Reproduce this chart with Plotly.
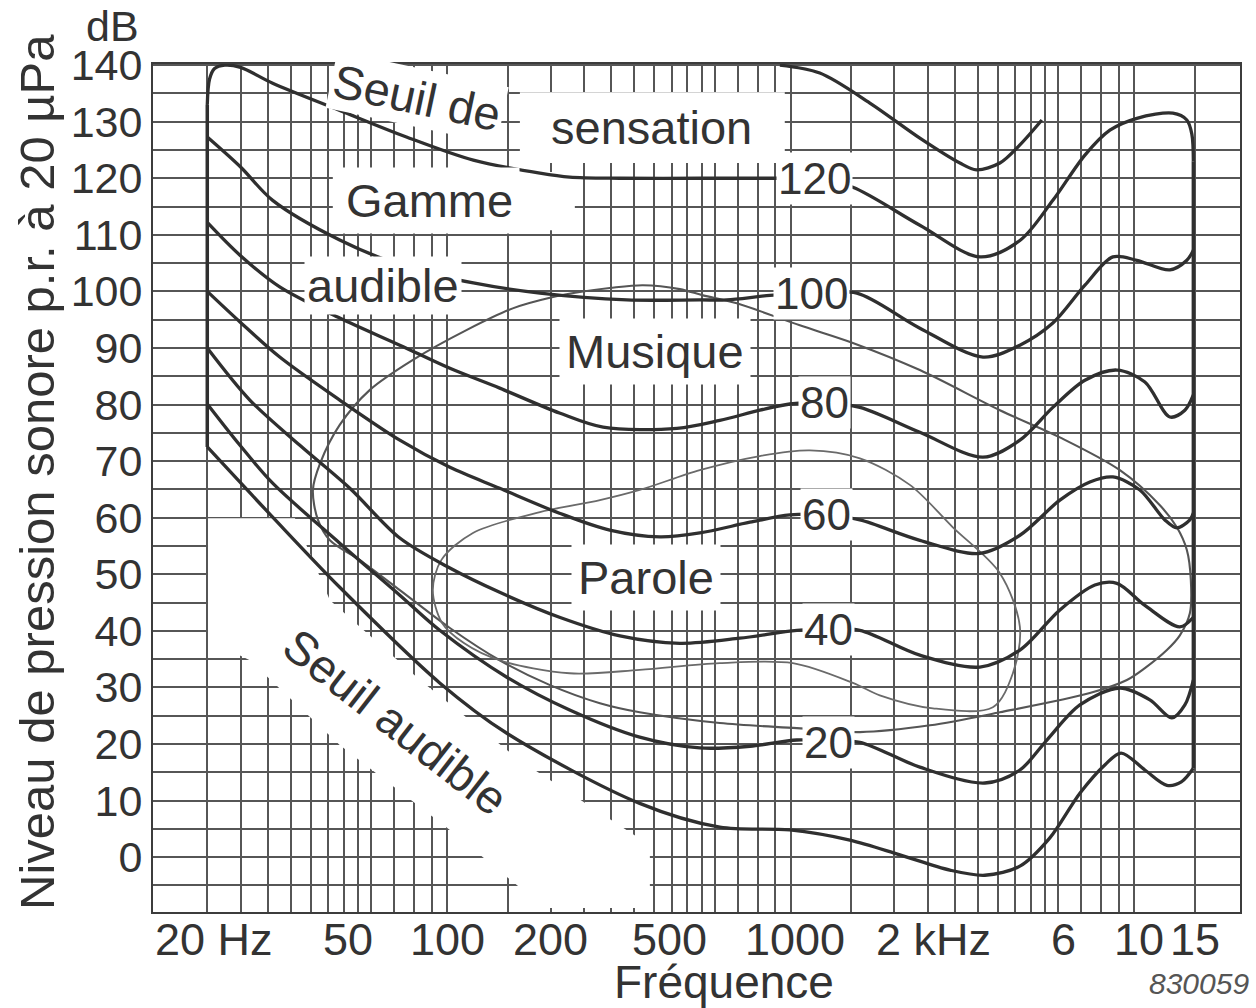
import math
import plotly.graph_objects as go

# ---------------------------------------------------------------------------
# Data: equal-loudness contours (phon), hearing limits, music and speech areas
# frequencies in Hz, levels in dB (re 20 µPa)
# ---------------------------------------------------------------------------

# left edge of the audible range (vertical at 20 Hz)
bord_gauche_hz = [20, 20]
bord_gauche_db = [72.5, 133]

# right edge of the audible range (vertical near 15 kHz)
bord_droit_hz = [14850, 14850]
bord_droit_db = [123, 15.7]

# threshold of feeling, continued as the 120 phon contour
seuil_sensation_hz = [20, 20.3, 21, 22.5, 25, 31, 48.6, 76, 119, 186, 227, 318, 543, 900,
                      1175, 1515, 2374, 3550, 4642, 5790, 7178, 8486, 10170, 12943, 14216,
                      14700, 14850]
seuil_sensation_db = [133, 137.5, 139.4, 140, 139.6, 136.8, 132, 127.3, 123.2, 120.9, 120.2,
                      120, 120, 120, 120, 118.4, 111.7, 106.1, 109, 116.1, 124.1, 128.5,
                      130.6, 131.5, 130.3, 127.8, 123]

# upper contour fragment (140 dB at 1 kHz)
courbe_140_hz = [929, 1214, 1698, 2374, 3105, 3470, 4059, 4642, 5379]
courbe_140_db = [140, 138.6, 133.3, 127.1, 122.7, 121.5, 122.7, 125.9, 130.3]

phon_100_hz = [20, 25, 31, 48.6, 76, 119, 186, 333, 543, 651, 869, 1150, 1556, 2374, 3624,
               4642, 5790, 7178, 8659, 10170, 12685, 14216, 14850]
phon_100_db = [127.3, 122, 116.1, 109.1, 104.3, 101.5, 99.7, 98.5, 98.5, 98.5, 99.3, 99.7,
               99.7, 93.5, 88.4, 90.5, 94.4, 101.1, 106.1, 105.5, 103.8, 105.5, 107.3]

phon_80_hz = [20, 24.9, 32.5, 48.6, 72.7, 101.7, 142, 212, 284, 466, 621, 812, 993, 1256,
              1588, 2374, 3624, 4642, 5790, 7178, 8895, 10730, 12685, 14027, 14850]
phon_80_db = [112.2, 106.4, 100.8, 95.3, 90.5, 86.4, 82.9, 78.5, 76, 75.8, 77.2, 79, 80.1,
              80.3, 79.5, 75.1, 70.7, 73.7, 79.5, 84.3, 86.1, 84, 77.8, 79, 81.7]

phon_60_hz = [20, 24.9, 32.5, 48.6, 72.7, 101.7, 142, 212, 297, 416, 543, 760, 993, 1270,
              1588, 2374, 3550, 4642, 6069, 7420, 8659, 10375, 12268, 13295, 14504, 14850]
phon_60_db = [100, 94.6, 88.4, 80.8, 73.7, 68.9, 65.2, 60.8, 57.8, 56.6, 57.3, 59.2, 60.5,
              60.5, 59.6, 56, 53.7, 56.9, 63.1, 66.3, 67.2, 64.9, 59.6, 58.2, 59.6, 60.8]

phon_40_hz = [20, 26.6, 37.2, 52, 72.7, 101.7, 142, 212, 318, 475, 710, 1041, 1290, 1588,
              2374, 3550, 4642, 6069, 7674, 8895, 10730, 13565, 14850]
phon_40_db = [90, 80.8, 72.8, 65.2, 56.4, 51.1, 46.8, 42.4, 39.1, 37.8, 38.7, 40.1, 40.3,
              40.1, 35.7, 33.6, 36.6, 43.7, 48.1, 48.4, 44.5, 40.7, 42.4]

phon_20_hz = [20, 24.9, 31, 48.6, 72.7, 95, 149, 227, 363, 543, 760, 1041, 1290, 1588, 2374,
              3671, 4642, 5563, 6940, 9075, 11095, 12856, 14027, 14850]
phon_20_db = [80.1, 72.8, 66.1, 55.5, 46.3, 40.1, 31.8, 26, 21.2, 19.3, 19.6, 20.7, 20.5,
              20.3, 15.9, 13.1, 15.4, 20.7, 26.9, 29.9, 27.8, 24.6, 26.9, 31.3]

# threshold of hearing
seuil_audible_hz = [20, 31, 48.6, 95, 149, 363, 621, 993, 1485, 2077, 2904, 3671, 4642, 5675,
                    6940, 8203, 9150, 10730, 12434, 13700, 14850]
seuil_audible_db = [72.5, 60.1, 47.7, 30.8, 21.9, 9.5, 5.3, 4.8, 3, 0.4, -2.3, -3.2, -1.6, 3.4,
                    11.3, 16.3, 18.4, 15.4, 12.7, 13.3, 15.7]

# music area outline
musique_hz = [40.6, 42.6, 48.6, 59.5, 79.4, 114, 155, 203, 243, 297, 371, 475, 555, 696, 1062,
              1515, 2374, 4059, 6069, 9075, 11865, 13295, 14216, 14600, 14504, 13565, 12434,
              10730, 9511, 7420, 4059, 2540, 1588, 1041, 621, 363, 278, 199, 142, 101.7, 72.7,
              55.6, 45.5, 42, 40.6]
musique_db = [64.9, 69.6, 76.4, 82.6, 87.9, 93.2, 97, 99, 99.9, 100.6, 101.1, 100.4, 99.3, 97.9,
              94, 90.9, 86.1, 79, 74.2, 68.4, 62.2, 58.3, 54.3, 49, 43.1, 39.2, 36.6, 33.4, 31.3,
              29, 25.6, 23.3, 22.1, 22.8, 23.7, 25.6, 27.2, 30.4, 34.8, 40.5, 47.2, 52.5, 56,
              59.6, 64.9]

# speech area outline
parole_hz = [90.7, 96, 118.7, 186, 278, 363, 543, 812, 1136, 1588, 2220, 2962, 4059, 4642,
             4429, 3873, 2591, 1815, 1515, 1013, 621, 363, 227, 142, 112, 96.5, 90.7]
parole_db = [47.2, 52.5, 57.3, 61, 63.1, 64.9, 68.4, 70.9, 71.9, 70.5, 65.8, 58.3, 50.2, 40.7,
             32.5, 26.5, 26.3, 28.6, 30.8, 34.3, 34.3, 33.1, 32.5, 34.8, 37.8, 41.4, 47.2]

# axis graduations
grille_hz = [20, 25, 30, 35, 40, 45, 50, 55, 60, 70, 80, 90, 100, 150, 200, 250, 300, 350, 400,
             450, 500, 550, 600, 700, 800, 900, 1000, 1500, 2000, 2500, 3000, 3500, 4000, 4500,
             5000, 5500, 6000, 7000, 8000, 9000, 10000, 15000]
grille_db = list(range(-5, 141, 5))
graduations_db = [v for v in grille_db if v >= 0 and v % 10 == 0]

freq_labels_hz = [20, 50, 100, 200, 500, 1000, 2000, 6000, 10000, 15000]
freq_labels_txt = ["20 Hz", "50", "100", "200", "500", "1000", "2 kHz", "6", "10", "15"]

# contour labels (phon) and where they sit on their curves
phon_labels = [120, 100, 80, 60, 40, 20]
phon_label_hz = [1175, 1150, 1256, 1270, 1290, 1290]
phon_label_db = [120, 99.7, 80.3, 60.5, 40.3, 20.3]

# ---------------------------------------------------------------------------
# Styling
# ---------------------------------------------------------------------------
FONT = "Liberation Sans, Arial, Helvetica, sans-serif"
INK = "#333333"
CURVE = dict(color="#2f2f2f", width=3.3, shape="spline", smoothing=0.9)
AREA = dict(color="#555555", width=2.1, shape="spline", smoothing=0.9)
PAROLE = dict(color="#6a6a6a", width=1.8, shape="spline", smoothing=0.9)
GRID = "#565656"

fig = go.Figure()

# blank paper left around the lettering (the printed grid stops there);
# drawn first so the curves stay on top
blank_paper = [
    ([20.1, 36, 45.5, 83.2, 162.6, 388.6, 388.6, 192.2, 101.7, 48.6, 26.6, 20.1, 20.1],
     [59.9, 59.9, 45.4, 31.3, 17.1, 2.1, -9.0, -9.0, 4.8, 19.8, 34.8, 38.4, 59.9]),
    ([46.4, 235, 235, 46.4, 46.4], [121.1, 121.1, 110.8, 110.8, 121.1]),
    ([162.6, 960, 960, 162.6, 162.6], [135.2, 135.2, 122.7, 122.7, 135.2]),
]
for bx, by in blank_paper:
    fig.add_trace(go.Scatter(x=bx, y=by, mode="lines", fill="toself", fillcolor="white",
                             line=dict(width=0, color="white"), hoverinfo="skip",
                             showlegend=False))


def add_line(xs, ys, line):
    fig.add_trace(go.Scatter(x=xs, y=ys, mode="lines", line=line,
                             hoverinfo="skip", showlegend=False))


add_line(musique_hz, musique_db, AREA)
add_line(parole_hz, parole_db, PAROLE)
for hz, db in [(phon_100_hz, phon_100_db), (phon_80_hz, phon_80_db),
               (phon_60_hz, phon_60_db), (phon_40_hz, phon_40_db),
               (phon_20_hz, phon_20_db), (seuil_audible_hz, seuil_audible_db),
               (seuil_sensation_hz, seuil_sensation_db), (courbe_140_hz, courbe_140_db)]:
    add_line(hz, db, CURVE)
straight = dict(color="#2f2f2f", width=3.5)
add_line(bord_gauche_hz, bord_gauche_db, straight)
add_line(bord_droit_hz, bord_droit_db, straight)

annotations = []

# frequency labels under the axis (small horizontal nudges)
label_nudge_px = {"20 Hz": 7, "50": 4, "500": -18, "1000": 4, "2 kHz": 39, "6": 5, "10": 5}
for hz, txt in zip(freq_labels_hz, freq_labels_txt):
    annotations.append(dict(x=math.log10(hz), y=0, xref="x", yref="paper",
                            text=txt, showarrow=False, xanchor="center", yanchor="middle",
                            xshift=label_nudge_px.get(txt, 0), yshift=-27, borderpad=0,
                            font=dict(size=45, color=INK, family=FONT)))

# phon labels on the contours
for p, hz, db in zip(phon_labels, phon_label_hz, phon_label_db):
    annotations.append(dict(x=math.log10(hz), y=db, xref="x", yref="y", text=str(p),
                            showarrow=False, bgcolor="white", borderpad=1,
                            font=dict(size=44, color=INK, family=FONT)))

# area names
zones = [
    ("Seuil de", 81.5, 134.2, 12, 2),
    ("sensation", 394, 128.9, 0, 6),
    ("Gamme", 88.9, 116.1, 0, 6),
    ("audible", 64.9, 101.1, 0, 2),
    ("Musique", 402, 89.3, 0, 6),
    ("Parole", 378, 49.5, 0, 6),
    ("Seuil audible", 70.4, 23.9, 38, 4),
]
for txt, hz, db, ang, pad in zones:
    annotations.append(dict(x=math.log10(hz), y=db, xref="x", yref="y", text=txt,
                            showarrow=False, textangle=ang, bgcolor="white", borderpad=pad,
                            font=dict(size=47, color=INK, family=FONT)))

# axis titles and figure reference
annotations += [
    dict(x=0.5253, y=0, xref="paper", yref="paper", text="Fréquence", showarrow=False,
         xanchor="center", yanchor="middle", yshift=-70, borderpad=0,
         font=dict(size=46, color=INK, family=FONT)),
    dict(x=1.009, y=0, xref="paper", yref="paper", text="<i>830059</i>", showarrow=False,
         xanchor="right", yanchor="middle", yshift=-71, borderpad=0,
         font=dict(size=30, color="#555555", family=FONT)),
    dict(x=-0.0377, y=1.045, xref="paper", yref="paper", text="dB", showarrow=False,
         xanchor="center", yanchor="middle", borderpad=0,
         font=dict(size=43, color=INK, family=FONT)),
    dict(x=-0.1067, y=0.519, xref="paper", yref="paper",
         text="Niveau de pression sonore p.r. à 20 µPa", showarrow=False, textangle=-90,
         xanchor="center", yanchor="middle", borderpad=0,
         font=dict(size=49, color=INK, family=FONT)),
]

fig.update_layout(
    width=1256, height=1008,
    margin=dict(l=153, r=16, t=64, b=96),
    paper_bgcolor="white", plot_bgcolor="white",
    font=dict(family=FONT, color=INK),
    annotations=annotations,
    xaxis=dict(type="log", range=[math.log10(13.9), math.log10(20300)],
               tickvals=grille_hz, showticklabels=False, ticks="",
               showgrid=True, gridcolor=GRID, gridwidth=1.5, zeroline=False,
               showline=True, mirror=True, linecolor="#3c3c3c", linewidth=2),
    yaxis=dict(range=[-9.7, 140.2], tickvals=grille_db,
               ticktext=[str(v) if v in graduations_db else "" for v in grille_db],
               ticks="", tickfont=dict(size=43, color=INK, family=FONT),
               showgrid=True, gridcolor=GRID, gridwidth=1.5, zeroline=False,
               showline=True, mirror=True, linecolor="#3c3c3c", linewidth=2),
)

fig.write_html("out.html")
